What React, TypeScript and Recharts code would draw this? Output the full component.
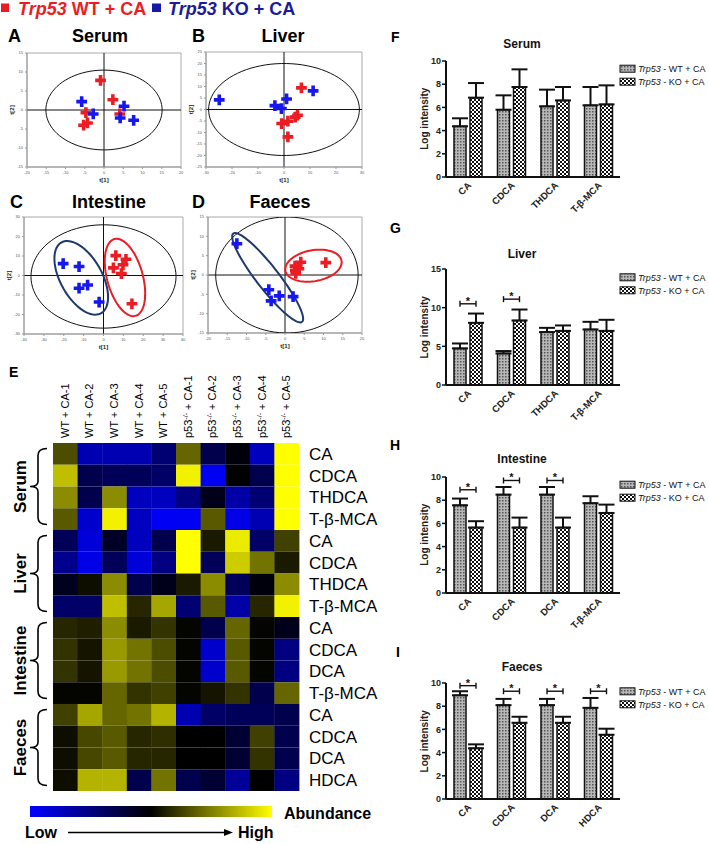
import React from 'react';
import {
  ScatterChart, Scatter, XAxis, YAxis, ZAxis, ReferenceLine, ReferenceArea,
  BarChart, Bar, Cell, ErrorBar,
} from 'recharts';

const FONT = 'Arial, "Liberation Sans", Helvetica, sans-serif';
const RED = '#ec1c24';
const BLUE = '#1616ee';
const NAVY = '#1d3a6e';

// ---------- PCA score plots: t[1] / t[2] ----------
const serumWT = [{ x: -0.9, y: 7.8 }, { x: 2.3, y: 2.7 }, { x: -4.7, y: -0.7 }, { x: 4.1, y: -1.05 }, { x: -4.3, y: -3.4 }, { x: -5.3, y: -4.0 }];
const serumKO = [{ x: -5.8, y: 2.2 }, { x: -2.8, y: -1.05 }, { x: 5.2, y: 1.0 }, { x: 4.2, y: -2.1 }, { x: 7.7, y: -2.7 }];
const liverWT = [{ x: 6.7, y: 9.4 }, { x: -0.9, y: -6.1 }, { x: 1.5, y: -5.1 }, { x: 4.3, y: -3.3 }, { x: 5.2, y: -2.5 }, { x: 1.5, y: -11.9 }];
const liverKO = [{ x: -24.9, y: 4.2 }, { x: -3.5, y: 1.7 }, { x: -1.0, y: 0.4 }, { x: 1.0, y: 4.6 }, { x: 11.2, y: 8.1 }];
const intestineWT = [{ x: 6.2, y: 10.2 }, { x: 11.3, y: 8.3 }, { x: 5.0, y: 3.9 }, { x: 9.8, y: 5.5 }, { x: 9.0, y: 1.0 }, { x: 14.3, y: -14.5 }];
const intestineKO = [{ x: -20.3, y: 6.1 }, { x: -12.3, y: 4.6 }, { x: -12.3, y: -6.5 }, { x: -8.0, y: -4.9 }, { x: -2.2, y: -13.6 }];
const faecesWT = [{ x: 2.6, y: 2.3 }, { x: 4.1, y: 3.3 }, { x: 3.6, y: 1.6 }, { x: 2.7, y: 1.2 }, { x: 2.8, y: 0.4 }, { x: 10.6, y: 3.2 }];
const faecesKO = [{ x: -12.5, y: 8.1 }, { x: -4.2, y: -3.8 }, { x: -3.6, y: -6.7 }, { x: -1.5, y: -5.4 }, { x: 2.1, y: -5.6 }];

const serumXTicks = [-20, -15, -10, -5, 0, 5, 10, 15, 20];
const serumYTicks = [-15, -10, -5, 0, 5, 10, 15];
const liverXTicks = [-30, -20, -10, 0, 10, 20, 30];
const liverYTicks = [-25, -20, -15, -10, -5, 0, 5, 10, 15, 20, 25];
const intestineXTicks = [-40, -30, -20, -10, 0, 10, 20, 30, 40];
const intestineYTicks = [-30, -20, -10, 0, 10, 20, 30];
const faecesXTicks = [-20, -15, -10, -5, 0, 5, 10, 15, 20];
const faecesYTicks = [-15, -10, -5, 0, 5, 10, 15];

// confidence ellipses: centre, semi-axes (data units), rotation in degrees
const serumEllipses = [{ cx: 0, cy: 0, rx: 15.1, ry: 10.5, angle: 0, color: '#111', width: 1 }];
const liverEllipses = [{ cx: 0, cy: 0, rx: 29, ry: 20, angle: 0, color: '#111', width: 1 }];
const intestineEllipses = [
  { cx: 0, cy: -0.5, rx: 36.5, ry: 26.5, angle: 0, color: '#111', width: 1 },
  { cx: -11.2, cy: -1.2, rx: 20.7, ry: 10.5, angle: -61.6, color: NAVY, width: 2 },
  { cx: 10.8, cy: -1, rx: 20.4, ry: 9, angle: -75, color: RED, width: 2 },
];
const faecesEllipses = [
  { cx: 0.5, cy: 0, rx: 18.5, ry: 15, angle: 0, color: '#111', width: 1 },
  { cx: -4.5, cy: -0.7, rx: 14.5, ry: 2.9, angle: -52, color: NAVY, width: 2 },
  { cx: 7.4, cy: 2.4, rx: 7.4, ry: 4, angle: 10, color: RED, width: 2 },
];

// ---------- heatmap ----------
const sampleNames = ['WT + CA-1', 'WT + CA-2', 'WT + CA-3', 'WT + CA-4', 'WT + CA-5',
  'p53-/- + CA-1', 'p53-/- + CA-2', 'p53-/- + CA-3', 'p53-/- + CA-4', 'p53-/- + CA-5'];
const groupNames = ['Serum', 'Liver', 'Intestine', 'Faeces'];
const rowNames = ['CA', 'CDCA', 'THDCA', 'T-β-MCA', 'CA', 'CDCA', 'THDCA', 'T-β-MCA',
  'CA', 'CDCA', 'DCA', 'T-β-MCA', 'CA', 'CDCA', 'DCA', 'HDCA'];
// -1 = low (blue), 0 = black, 1 = high (yellow)
const heatSerum = [
  [0.3, -0.7, -0.7, -0.7, -0.45, 0.4, -0.3, -0.05, -0.75, 1],
  [0.75, -0.3, -0.35, -0.35, -0.4, 0.95, -0.95, 0, -0.3, 1],
  [0.55, -0.3, 0.55, -0.75, -0.75, -0.5, -0.1, -0.65, -0.45, 1],
  [0.35, -0.8, 0.95, -0.75, -0.95, -0.95, 0.35, -0.9, -0.7, 1],
];
const heatLiver = [
  [-0.35, -0.85, -0.15, -0.75, -0.3, 1, 0.1, 0.92, -0.4, 0.25],
  [-0.55, -0.9, -0.35, -0.85, -0.5, 1, -0.35, 0.8, 0.45, 0.1],
  [-0.12, 0.05, 0.55, -0.3, -0.1, 0.1, 0.55, -0.35, -0.05, 0.55],
  [-0.4, -0.4, 0.75, 0.15, 0.65, -0.45, 0.35, -0.65, 0.15, 0.95],
];
const heatIntestine = [
  [0.15, 0.12, 0.55, 0.1, 0.2, 0.02, -0.3, 0.4, 0.02, -0.1],
  [0.2, 0.08, 0.6, 0.45, 0.3, 0.02, -0.8, 0.35, 0.02, -0.5],
  [0.2, 0.08, 0.6, 0.45, 0.3, 0.02, -0.8, 0.35, 0.02, -0.5],
  [0.02, 0.02, 0.4, 0.2, 0.25, 0.02, 0.08, 0.2, -0.3, 0.4],
];
const heatFaeces = [
  [0.25, 0.65, 0.4, 0.45, 0.7, -0.7, -0.4, -0.35, -0.35, -0.3],
  [0.05, 0.28, 0.35, 0.15, 0.18, 0, 0, -0.2, 0.25, -0.3],
  [0.05, 0.28, 0.35, 0.15, 0.15, 0, 0, -0.2, 0.2, -0.3],
  [0.05, 0.7, 0.7, -0.3, 0.45, -0.3, -0.2, -0.6, 0, -0.5],
];

// ---------- bar charts (log intensity, mean + SEM) ----------
const serumBarCats = ['CA', 'CDCA', 'THDCA', 'T-β-MCA'];
const serumWTMean = [4.37, 5.8, 6.09, 6.18];
const serumWTErr = [0.69, 1.24, 1.44, 1.58];
const serumKOMean = [6.84, 7.76, 6.6, 6.26];
const serumKOErr = [1.26, 1.52, 1.16, 1.64];
const serumSig = [null, null, null, null];

const liverBarCats = ['CA', 'CDCA', 'THDCA', 'T-β-MCA'];
const liverWTMean = [4.73, 4.08, 6.84, 7.18];
const liverWTErr = [0.64, 0.31, 0.55, 0.99];
const liverKOMean = [8.04, 8.34, 7.0, 7.0];
const liverKOErr = [1.2, 1.42, 0.7, 1.43];
const liverSig = [10.5, 11.1, null, null];

const intestineBarCats = ['CA', 'CDCA', 'DCA', 'T-β-MCA'];
const intestineWTMean = [7.56, 8.48, 8.48, 7.74];
const intestineWTErr = [0.58, 0.66, 0.66, 0.6];
const intestineKOMean = [5.64, 5.64, 5.64, 6.9];
const intestineKOErr = [0.55, 0.86, 0.86, 0.72];
const intestineSig = [8.9, 9.7, 9.7, null];

const faecesBarCats = ['CA', 'CDCA', 'DCA', 'HDCA'];
const faecesWTMean = [8.94, 8.09, 8.09, 7.86];
const faecesWTErr = [0.35, 0.54, 0.54, 0.85];
const faecesKOMean = [4.37, 6.57, 6.57, 5.54];
const faecesKOErr = [0.34, 0.52, 0.52, 0.52];
const faecesSig = [9.77, 9.29, 9.29, 9.29];

const tenTicks = [0, 2, 4, 6, 8, 10];
const fifteenTicks = [0, 5, 10, 15];

// ---------- helpers ----------
function ellipsePoints(e) {
  const pts = [];
  const a = (e.angle * Math.PI) / 180;
  for (let i = 0; i <= 90; i++) {
    const t = (i / 90) * 2 * Math.PI;
    const ex = e.rx * Math.cos(t);
    const ey = e.ry * Math.sin(t);
    pts.push({ x: e.cx + ex * Math.cos(a) - ey * Math.sin(a), y: e.cy + ex * Math.sin(a) + ey * Math.cos(a) });
  }
  return pts;
}

function heatColor(v) {
  if (v >= 0) {
    const c = Math.round(255 * v);
    return `rgb(${c},${c},0)`;
  }
  return `rgb(0,0,${Math.round(-255 * v)})`;
}

const Patterns = ({ suffix }) => (
  <defs>
    <pattern id={'wtPat' + suffix} width="3" height="3" patternUnits="userSpaceOnUse">
      <rect width="3" height="3" fill="#b8b8b8" />
      <rect width="1.5" height="1.5" fill="#555" />
    </pattern>
    <pattern id={'koPat' + suffix} width="4" height="4" patternUnits="userSpaceOnUse">
      <rect width="4" height="4" fill="#fff" />
      <rect width="2" height="2" fill="#111" />
      <rect x="2" y="2" width="2" height="2" fill="#111" />
    </pattern>
  </defs>
);

// ---------- PCA panel ----------
const PCA_YW = 22;
const PCA_XH = 24;
const PCA_MT = 4;
const PCA_MR = 3;

function PcaPanel({ plot, xDomain, yDomain, xTicks, yTicks, wt, ko, ellipses }) {
  const w = plot.r - plot.l + PCA_YW + PCA_MR;
  const h = plot.b - plot.t + PCA_MT + PCA_XH;
  const axisStyle = { fontSize: 4, fill: '#555', fontFamily: FONT };
  return (
    <div style={{ position: 'absolute', left: plot.l - PCA_YW, top: plot.t - PCA_MT }}>
      <ScatterChart width={w} height={h} margin={{ top: PCA_MT, right: PCA_MR, left: 0, bottom: 0 }}>
        <XAxis type="number" dataKey="x" domain={xDomain} ticks={xTicks} allowDataOverflow
          height={PCA_XH} tick={axisStyle} tickSize={2} stroke="#999" />
        <YAxis type="number" dataKey="y" domain={yDomain} ticks={yTicks} allowDataOverflow
          width={PCA_YW} tick={axisStyle} tickSize={2} stroke="#999" />
        <ZAxis range={[13, 13]} />
        <ReferenceArea x1={xDomain[0]} x2={xDomain[1]} y1={yDomain[0]} y2={yDomain[1]}
          fill="none" stroke="#aaa" strokeWidth={1} />
        <ReferenceLine x={0} stroke="#111" strokeWidth={1} />
        <ReferenceLine y={0} stroke="#111" strokeWidth={1} />
        {ellipses.map((e, i) => (
          <Scatter key={'e' + i} data={ellipsePoints(e)} line={{ stroke: e.color, strokeWidth: e.width }}
            shape={() => <g />} isAnimationActive={false} />
        ))}
        <Scatter data={wt} fill={RED} shape="cross" isAnimationActive={false} />
        <Scatter data={ko} fill={BLUE} shape="cross" isAnimationActive={false} />
      </ScatterChart>
    </div>
  );
}

// ---------- heatmap ----------
const heatRows = [...heatSerum, ...heatLiver, ...heatIntestine, ...heatFaeces];
const rowTicks = rowNames.map((_, i) => i + 0.5);
const ROWS_PER_GROUP = rowNames.length / groupNames.length;
const HEAT_W = 380;
const HEAT_H = 431;
const HEAT_LEFT = 53;
const HEAT_RIGHT_AXIS = 81;
const HEAT_TOP_AXIS = 83;
const HEAT_TICK_MARGIN = 10;
const HEAT_PLOT_W = HEAT_W - HEAT_LEFT - HEAT_RIGHT_AXIS;
const ROW_H = (HEAT_H - HEAT_TOP_AXIS) / rowNames.length;

const SampleTick = ({ x, y, payload }) => {
  const name = payload.value;
  const tx = x + 3.5;
  const isKO = name.startsWith('p53');
  return (
    <text x={tx} y={y} transform={`rotate(-90 ${tx} ${y})`} fontSize={11} fill="#000" fontFamily={FONT}>
      {isKO ? (
        <>
          p53<tspan fontSize={7} dy={-4}>-/-</tspan><tspan dy={4}>{name.slice(6)}</tspan>
        </>
      ) : name}
    </text>
  );
};

// row label on the right; the group brace + name on the left is drawn with the
// tick that closes the upper half of each group
const RowTick = ({ x, y, payload }) => {
  const ri = Math.floor(payload.value);
  let group = null;
  if (ri % ROWS_PER_GROUP === ROWS_PER_GROUP / 2 - 1) {
    const gy = y + ROW_H / 2;
    const plotLeft = x - HEAT_TICK_MARGIN - HEAT_PLOT_W;
    const half = (ROWS_PER_GROUP / 2) * ROW_H - 5.5;
    const bx = plotLeft - 15;
    const d = `M ${bx + 9} ${gy - half} Q ${bx} ${gy - half} ${bx} ${gy - half + 7} L ${bx} ${gy - 5} Q ${bx} ${gy} ${bx - 8} ${gy} Q ${bx} ${gy} ${bx} ${gy + 5} L ${bx} ${gy + half - 7} Q ${bx} ${gy + half} ${bx + 9} ${gy + half}`;
    const lx = plotLeft - 33;
    group = (
      <g>
        <path d={d} fill="none" stroke="#000" strokeWidth={1.6} />
        <text x={lx} y={gy} transform={`rotate(-90 ${lx} ${gy})`} textAnchor="middle" dominantBaseline="central"
          fontSize={17} fontWeight="bold" fill="#000" fontFamily={FONT}>
          {groupNames[Math.floor(ri / ROWS_PER_GROUP)]}
        </text>
      </g>
    );
  }
  return (
    <g>
      <text x={x} y={y} dy="0.36em" fontSize={17} fill="#000" fontFamily={FONT}>{rowNames[ri]}</text>
      {group}
    </g>
  );
};

function Heatmap() {
  const data = sampleNames.map((name) => {
    const d = { name };
    heatRows.forEach((_, ri) => { d['r' + ri] = 1; });
    return d;
  });
  return (
    <div style={{ position: 'absolute', left: 0, top: 360 }}>
      <BarChart width={HEAT_W} height={HEAT_H} data={data} margin={{ top: 0, right: 0, left: HEAT_LEFT, bottom: 0 }}
        barCategoryGap={0} barGap={0}>
        <XAxis dataKey="name" orientation="top" height={HEAT_TOP_AXIS} interval={0} axisLine={false}
          tickLine={false} tickSize={0} tickMargin={5} tick={(p) => <SampleTick {...p} />} />
        <YAxis orientation="right" type="number" domain={[0, rowNames.length]} reversed
          ticks={rowTicks} interval={0} width={HEAT_RIGHT_AXIS} axisLine={false} tickLine={false} tickSize={0}
          tickMargin={HEAT_TICK_MARGIN} tick={(p) => <RowTick {...p} />} />
        {heatRows.map((row, ri) => (
          <Bar key={ri} dataKey={'r' + ri} stackId="h" isAnimationActive={false}>
            {row.map((v, ci) => <Cell key={ci} fill={heatColor(v)} />)}
          </Bar>
        ))}
      </BarChart>
    </div>
  );
}

// ---------- bar panels ----------
const BAR_LEFT = 370;
const BAR_YAXIS = 76;
const BAR_PLOT_W = 174;
const BAR_PLOT_H = 116;
const BAR_MT = 10;
const BAR_XH = 44;
const BAR_SIZE = 12;
const BAR_GAP = 4;

const WTBar = (props) => {
  const { x, y, width, height, payload } = props;
  const pxPerUnit = height / payload.wt;
  let bracket = null;
  if (payload.sig != null) {
    const by = y + height - payload.sig * pxPerUnit;
    const x1 = x + width / 2;
    const x2 = x1 + width + BAR_GAP;
    bracket = (
      <g stroke="#111" strokeWidth={1.4}>
        <line x1={x1} x2={x2} y1={by} y2={by} />
        <line x1={x1} x2={x1} y1={by - 3} y2={by + 3} />
        <line x1={x2} x2={x2} y1={by - 3} y2={by + 3} />
        <text x={(x1 + x2) / 2} y={by + 1} textAnchor="middle" fontSize={11} fontWeight="bold"
          stroke="none" fill="#111" fontFamily={FONT}>*</text>
      </g>
    );
  }
  return (
    <g>
      <rect x={x} y={y} width={width} height={height} fill="url(#wtPatB)" stroke="#111" strokeWidth={1.5} />
      {bracket}
    </g>
  );
};

const CatTick = ({ x, y, payload }) => {
  const tx = x + 4;
  const ty = y + 1;
  return (
    <text x={tx} y={ty} transform={`rotate(-45 ${tx} ${ty})`} textAnchor="end" fontSize={9.5}
      fontWeight="bold" fill="#222" fontFamily={FONT}>{payload.value}</text>
  );
};

function BarPanel({ plotTop, cats, wt, wtErr, ko, koErr, sig, yMax, yTicks }) {
  const data = cats.map((c, i) => ({
    name: c, wt: wt[i], wtErr: [0, wtErr[i]], ko: ko[i], koErr: [0, koErr[i]], sig: sig[i],
  }));
  return (
    <div style={{ position: 'absolute', left: BAR_LEFT, top: plotTop - BAR_MT }}>
      <BarChart width={BAR_YAXIS + BAR_PLOT_W + 10} height={BAR_MT + BAR_PLOT_H + BAR_XH} data={data}
        margin={{ top: BAR_MT, right: 10, left: 0, bottom: 0 }} barSize={BAR_SIZE} barGap={BAR_GAP}>
        <Patterns suffix="B" />
        <XAxis dataKey="name" height={BAR_XH} interval={0} tickLine={false}
          axisLine={{ stroke: '#111', strokeWidth: 2 }} tick={(p) => <CatTick {...p} />} />
        <YAxis width={BAR_YAXIS} domain={[0, yMax]} ticks={yTicks}
          axisLine={{ stroke: '#111', strokeWidth: 2 }} tickLine={{ stroke: '#111', strokeWidth: 1.5 }}
          tickSize={4} tickMargin={1}
          tick={{ fontSize: 9, fontWeight: 'bold', fill: '#222', fontFamily: FONT }} />
        <Bar dataKey="wt" isAnimationActive={false} shape={(p) => <WTBar {...p} />}>
          <ErrorBar dataKey="wtErr" width={8} stroke="#111" strokeWidth={2} />
        </Bar>
        <Bar dataKey="ko" fill="url(#koPatB)" stroke="#111" strokeWidth={1.5} isAnimationActive={false}>
          <ErrorBar dataKey="koErr" width={8} stroke="#111" strokeWidth={2} />
        </Bar>
      </BarChart>
    </div>
  );
}

// ---------- panel layout ----------
const pcaPanels = [
  { key: 'A', title: 'Serum', letterX: 8, titleX: 100, textY: 42, plot: { l: 27, r: 181, t: 53, b: 167 },
    xDomain: [-20, 20], yDomain: [-15, 15], xTicks: serumXTicks, yTicks: serumYTicks, wt: serumWT, ko: serumKO, ellipses: serumEllipses },
  { key: 'B', title: 'Liver', letterX: 192, titleX: 283, textY: 42, plot: { l: 206, r: 362, t: 52, b: 167 },
    xDomain: [-30, 30], yDomain: [-25, 25], xTicks: liverXTicks, yTicks: liverYTicks, wt: liverWT, ko: liverKO, ellipses: liverEllipses },
  { key: 'C', title: 'Intestine', letterX: 10, titleX: 109, textY: 208, plot: { l: 24, r: 183, t: 217, b: 334 },
    xDomain: [-40, 40], yDomain: [-30, 30], xTicks: intestineXTicks, yTicks: intestineYTicks, wt: intestineWT, ko: intestineKO, ellipses: intestineEllipses },
  { key: 'D', title: 'Faeces', letterX: 192, titleX: 280, textY: 208, plot: { l: 208, r: 362, t: 217, b: 333 },
    xDomain: [-20, 20], yDomain: [-15, 15], xTicks: faecesXTicks, yTicks: faecesYTicks, wt: faecesWT, ko: faecesKO, ellipses: faecesEllipses },
];

const barPanels = [
  { key: 'F', title: 'Serum', letterX: 391, letterY: 41.7, titleY: 48, plotTop: 60.7, cats: serumBarCats,
    wt: serumWTMean, wtErr: serumWTErr, ko: serumKOMean, koErr: serumKOErr, sig: serumSig, yMax: 10, yTicks: tenTicks },
  { key: 'G', title: 'Liver', letterX: 390, letterY: 233, titleY: 258, plotTop: 269.3, cats: liverBarCats,
    wt: liverWTMean, wtErr: liverWTErr, ko: liverKOMean, koErr: liverKOErr, sig: liverSig, yMax: 15, yTicks: fifteenTicks },
  { key: 'H', title: 'Intestine', letterX: 390, letterY: 450, titleY: 463, plotTop: 476.7, cats: intestineBarCats,
    wt: intestineWTMean, wtErr: intestineWTErr, ko: intestineKOMean, koErr: intestineKOErr, sig: intestineSig, yMax: 10, yTicks: tenTicks },
  { key: 'I', title: 'Faeces', letterX: 396, letterY: 656.7, titleY: 670.7, plotTop: 683.3, cats: faecesBarCats,
    wt: faecesWTMean, wtErr: faecesWTErr, ko: faecesKOMean, koErr: faecesKOErr, sig: faecesSig, yMax: 10, yTicks: tenTicks },
];

const PLOT_LEFT = BAR_LEFT + BAR_YAXIS;
const PLOT_RIGHT = PLOT_LEFT + BAR_PLOT_W;

function Overlay() {
  return (
    <svg width={709} height={844} style={{ position: 'absolute', left: 0, top: 0, pointerEvents: 'none' }}
      fontFamily={FONT}>
      <Patterns suffix="L" />
      {/* top legend */}
      <rect x={1} y={3.5} width={8} height={8.5} fill={RED} />
      <text x={18} y={15} fontSize={18} fontWeight="bold" fill={RED}>
        <tspan fontStyle="italic">Trp53</tspan>{' WT + CA'}
      </text>
      <rect x={152} y={3.5} width={9} height={8.5} fill="#1717a8" />
      <text x={168} y={15} fontSize={18} fontWeight="bold" fill="#1b1b9a">
        <tspan fontStyle="italic">Trp53</tspan>{' KO + CA'}
      </text>

      {pcaPanels.map((p) => (
        <g key={p.key}>
          <text x={p.letterX} y={p.textY} fontSize={18} fontWeight="bold" fill="#000">{p.key}</text>
          <text x={p.titleX} y={p.textY} fontSize={18} fontWeight="bold" fill="#000" textAnchor="middle">{p.title}</text>
          <text x={(p.plot.l + p.plot.r) / 2} y={p.plot.b + 14.5} fontSize={6} fontWeight="bold" fill="#222"
            textAnchor="middle">t[1]</text>
          <text x={p.plot.l - 13} y={(p.plot.t + p.plot.b) / 2} fontSize={6} fontWeight="bold" fill="#222"
            textAnchor="middle" transform={`rotate(-90 ${p.plot.l - 13} ${(p.plot.t + p.plot.b) / 2})`}>t[2]</text>
        </g>
      ))}

      <text x={9} y={377} fontSize={14} fontWeight="bold" fill="#000">E</text>

      {/* colour key */}
      <text x={284} y={819} fontSize={16} fontWeight="bold" fill="#000">Abundance</text>
      <text x={25} y={838} fontSize={16} fontWeight="bold" fill="#000">Low</text>
      <line x1={68} x2={226} y1={832.5} y2={832.5} stroke="#000" strokeWidth={1.6} />
      <polygon points="233,832.5 224,829 224,836" fill="#000" />
      <text x={238} y={838} fontSize={16} fontWeight="bold" fill="#000">High</text>

      {barPanels.map((p) => (
        <g key={p.key}>
          <text x={p.letterX} y={p.letterY} fontSize={14} fontWeight="bold" fill="#000">{p.key}</text>
          <text x={522} y={p.titleY} fontSize={12} fontWeight="bold" fill="#111" textAnchor="middle">{p.title}</text>
          <text x={425} y={p.plotTop + BAR_PLOT_H / 2} fontSize={10} fontWeight="bold" fill="#222"
            textAnchor="middle" dominantBaseline="central"
            transform={`rotate(-90 425 ${p.plotTop + BAR_PLOT_H / 2})`}>Log intensity</text>
          <rect x={PLOT_RIGHT} y={p.plotTop + 4.5} width={15} height={7} fill="url(#wtPatL)" stroke="#111" strokeWidth={1} />
          <text x={PLOT_RIGHT + 18} y={p.plotTop + 11.5} fontSize={9} fill="#111">
            <tspan fontStyle="italic">Trp53</tspan>{' - WT + CA'}
          </text>
          <rect x={PLOT_RIGHT} y={p.plotTop + 17.5} width={15} height={7} fill="url(#koPatL)" stroke="#111" strokeWidth={1} />
          <text x={PLOT_RIGHT + 18} y={p.plotTop + 24.5} fontSize={9} fill="#111">
            <tspan fontStyle="italic">Trp53</tspan>{' - KO + CA'}
          </text>
        </g>
      ))}
    </svg>
  );
}

export default function App() {
  return (
    <div style={{ position: 'absolute', left: 0, top: 0, width: 709, height: 844, background: '#fff', overflow: 'hidden', fontFamily: FONT }}>
      {pcaPanels.map((p) => (
        <PcaPanel key={p.key} plot={p.plot} xDomain={p.xDomain} yDomain={p.yDomain} xTicks={p.xTicks}
          yTicks={p.yTicks} wt={p.wt} ko={p.ko} ellipses={p.ellipses} />
      ))}
      <Heatmap />
      <div style={{ position: 'absolute', left: 30, top: 806, width: 242, height: 11,
        background: 'linear-gradient(to right, #0000ff, #000000 50%, #ffff00)' }} />
      {barPanels.map((p) => (
        <BarPanel key={p.key} plotTop={p.plotTop} cats={p.cats} wt={p.wt} wtErr={p.wtErr} ko={p.ko}
          koErr={p.koErr} sig={p.sig} yMax={p.yMax} yTicks={p.yTicks} />
      ))}
      <Overlay />
    </div>
  );
}
